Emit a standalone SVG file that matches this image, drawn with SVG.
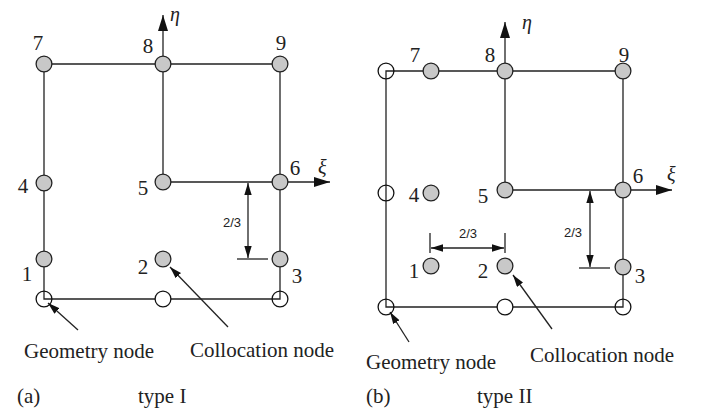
<svg xmlns="http://www.w3.org/2000/svg" width="702" height="409" viewBox="0 0 702 409">
<style>
.ln{stroke:#222;stroke-width:1.3;fill:none}
.cn{fill:#c8c8c8;stroke:#222;stroke-width:1.3}
.gn{fill:none;stroke:#111;stroke-width:1.3}
.gw{fill:#fff;stroke:#111;stroke-width:1.3}
.num{font-family:"Liberation Serif","Times New Roman",serif;font-size:21px;fill:#222;text-anchor:middle}
.lab{font-family:"Liberation Serif","Times New Roman",serif;font-size:21px;fill:#222}
.gr{font-family:"Liberation Serif","Times New Roman",serif;font-size:20px;font-style:italic;fill:#222}
.dim{font-family:"Liberation Sans",Arial,sans-serif;font-size:13px;fill:#222;text-anchor:middle}
.ax{marker-end:url(#big)}
.ar{marker-end:url(#sm)}
.dd{marker-start:url(#sm);marker-end:url(#sm)}
</style>
<defs>
<marker id="big" markerUnits="userSpaceOnUse" markerWidth="17" markerHeight="10" refX="16" refY="5" orient="auto-start-reverse"><path d="M0,0 L16,5 L0,10 z" fill="#111"/></marker>
<marker id="sm" markerUnits="userSpaceOnUse" markerWidth="13" markerHeight="8" refX="12" refY="3.7" orient="auto-start-reverse"><path d="M0,0 L12,3.7 L0,7.4 z" fill="#111"/></marker>
</defs>
<rect width="702" height="409" fill="#fff"/>
<g id="connectors">
<path class="ln" d="M44,64 H280 V299 H44 Z"/>
<path class="ln" d="M163,64 V182 H280"/>
<line class="ln ax" x1="163" y1="64" x2="163" y2="15"/>
<line class="ln ax" x1="280" y1="182" x2="330" y2="182"/>
<line class="ln dd" x1="248" y1="183" x2="248" y2="258"/>
<line class="ln" x1="237" y1="259" x2="268" y2="259"/>
<line class="ln ar" x1="78" y1="330" x2="48" y2="303"/>
<line class="ln ar" x1="228" y1="327" x2="170" y2="267"/>
<path class="ln" d="M386,71 H623 V307 H386 Z"/>
<path class="ln" d="M505,71 V190 H623"/>
<line class="ln ax" x1="505" y1="71" x2="505" y2="22"/>
<line class="ln ax" x1="623" y1="190" x2="672" y2="190"/>
<line class="ln dd" x1="590" y1="191" x2="590" y2="267"/>
<line class="ln" x1="579" y1="268" x2="610" y2="268"/>
<line class="ln dd" x1="431" y1="248" x2="504" y2="248"/>
<line class="ln" x1="430" y1="233" x2="430" y2="253"/>
<line class="ln" x1="505" y1="233" x2="505" y2="253"/>
<line class="ln ar" x1="409" y1="342" x2="390" y2="312"/>
<line class="ln ar" x1="552" y1="329" x2="513" y2="275"/>
</g>
<g id="a-node7"><circle class="cn" cx="44" cy="64" r="7.9"/><text class="num" x="38" y="50">7</text></g>
<g id="a-node8"><circle class="cn" cx="163" cy="64" r="7.9"/><text class="num" x="148" y="53">8</text></g>
<g id="a-node9"><circle class="cn" cx="280" cy="64" r="7.9"/><text class="num" x="281" y="50">9</text></g>
<g id="a-node4"><circle class="cn" cx="44" cy="183" r="7.9"/><text class="num" x="23" y="193">4</text></g>
<g id="a-node5"><circle class="cn" cx="163" cy="182" r="7.9"/><text class="num" x="143" y="195">5</text></g>
<g id="a-node6"><circle class="cn" cx="280" cy="182" r="7.9"/><text class="num" x="295" y="175">6</text></g>
<g id="a-node1"><circle class="cn" cx="44" cy="259" r="7.9"/><text class="num" x="27" y="281">1</text></g>
<g id="a-node2"><circle class="cn" cx="163" cy="259" r="7.9"/><text class="num" x="143" y="274">2</text></g>
<g id="a-node3"><circle class="cn" cx="280" cy="259" r="7.9"/><text class="num" x="297" y="283">3</text></g>
<g id="a-geo1"><circle class="gn" cx="44" cy="299" r="7.9"/></g>
<g id="a-geo2"><circle class="gw" cx="163" cy="299" r="7.9"/></g>
<g id="a-geo3"><circle class="gn" cx="280" cy="299" r="7.9"/></g>
<g id="a-labels">
<text class="gr" x="170" y="21">η</text>
<text class="gr" x="318" y="174">ξ</text>
<text class="dim" x="232" y="227">2/3</text>
<text class="lab" x="24" y="358">Geometry node</text>
<text class="lab" x="190" y="357">Collocation node</text>
<text class="lab" x="17" y="403">(a)</text>
<text class="lab" x="138" y="403">type I</text>
</g>
<g id="b-node7"><circle class="cn" cx="431" cy="71" r="7.9"/><text class="num" x="415" y="62">7</text></g>
<g id="b-node8"><circle class="cn" cx="505" cy="71" r="7.9"/><text class="num" x="490" y="62">8</text></g>
<g id="b-node9"><circle class="cn" cx="623" cy="71" r="7.9"/><text class="num" x="624" y="62">9</text></g>
<g id="b-node4"><circle class="cn" cx="431" cy="193" r="7.9"/><text class="num" x="414" y="202">4</text></g>
<g id="b-node5"><circle class="cn" cx="505" cy="190" r="7.9"/><text class="num" x="483" y="203">5</text></g>
<g id="b-node6"><circle class="cn" cx="623" cy="190" r="7.9"/><text class="num" x="638" y="183">6</text></g>
<g id="b-node1"><circle class="cn" cx="431" cy="266" r="7.9"/><text class="num" x="414" y="278">1</text></g>
<g id="b-node2"><circle class="cn" cx="505" cy="266" r="7.9"/><text class="num" x="483" y="278">2</text></g>
<g id="b-node3"><circle class="cn" cx="623" cy="267" r="7.9"/><text class="num" x="640" y="283">3</text></g>
<g id="b-geo1"><circle class="gn" cx="386" cy="71" r="7.9"/></g>
<g id="b-geo2"><circle class="gn" cx="386" cy="193" r="7.9"/></g>
<g id="b-geo3"><circle class="gn" cx="386" cy="307" r="7.9"/></g>
<g id="b-geo4"><circle class="gw" cx="505" cy="307" r="7.9"/></g>
<g id="b-geo5"><circle class="gn" cx="623" cy="307" r="7.9"/></g>
<g id="b-labels">
<text class="gr" x="522" y="29">η</text>
<text class="gr" x="667" y="181">ξ</text>
<text class="dim" x="573" y="237">2/3</text>
<text class="dim" x="468" y="238">2/3</text>
<text class="lab" x="366" y="369">Geometry node</text>
<text class="lab" x="530" y="362">Collocation node</text>
<text class="lab" x="366" y="403">(b)</text>
<text class="lab" x="477" y="403">type II</text>
</g>
</svg>
